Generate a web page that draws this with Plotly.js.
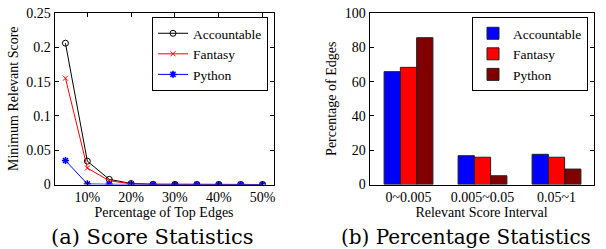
<!DOCTYPE html>
<html>
<head>
<meta charset="utf-8">
<script src="https://cdn.plot.ly/plotly-3.0.1.min.js"></script>
</head>
<body style="margin:0">
<div id="chart"></div>
<script>
// Left panel: minimum relevant score vs percentage of top edges
const topEdgePct = [5, 10, 15, 20, 25, 30, 35, 40, 45, 50];
const accountableScore = [0.206, 0.034, 0.0075, 0.0015, 0.0003, 0.0001, 0, 0, 0, 0];
const fantasyScore = [0.155, 0.024, 0.0055, 0.001, 0.0002, 0.0001, 0, 0, 0, 0];
const pythonScore = [0.035, 0.0008, 0.0003, 0.0001, 0, 0, 0, 0, 0, 0];
const pctTickVals = [10, 20, 30, 40, 50];
const pctTickText = ['10%', '20%', '30%', '40%', '50%'];

// Right panel: percentage of edges per relevant score interval
const intervals = ['0~0.005', '0.005~0.05', '0.05~1'];
const accountablePct = [65.8, 16.8, 17.6];
const fantasyPct = [68.3, 15.9, 15.9];
const pythonPct = [85.6, 5.1, 9.0];

const seriesNames = ['Accountable', 'Fantasy', 'Python'];

const FONT = 'Liberation Serif';
const CAP = 'DejaVu Serif';
const W = 606, H = 249;
const px = v => v / W;
const py = v => 1 - v / H;

const data = [
  {x: topEdgePct, y: accountableScore, name: seriesNames[0], type: 'scatter', mode: 'lines+markers',
   xaxis: 'x', yaxis: 'y', legend: 'legend',
   line: {color: '#000', width: 1}, marker: {symbol: 'circle-open', size: 6, color: '#000', line: {width: 1}}},
  {x: topEdgePct, y: fantasyScore, name: seriesNames[1], type: 'scatter', mode: 'lines+markers',
   xaxis: 'x', yaxis: 'y', legend: 'legend',
   line: {color: '#ff0000', width: 1}, marker: {symbol: 'x-thin-open', size: 5, color: '#ff0000', line: {width: 1, color: '#ff0000'}}},
  {x: topEdgePct, y: pythonScore, name: seriesNames[2], type: 'scatter', mode: 'lines+markers',
   xaxis: 'x', yaxis: 'y', legend: 'legend',
   line: {color: '#0000ff', width: 1}, marker: {symbol: 'asterisk-open', size: 6, color: '#0000ff', line: {width: 1.5, color: '#0000ff'}}},
  {x: intervals, y: accountablePct, name: seriesNames[0], type: 'bar', xaxis: 'x2', yaxis: 'y2', legend: 'legend2',
   marker: {color: '#0000ff', line: {color: '#222', width: 1}}},
  {x: intervals, y: fantasyPct, name: seriesNames[1], type: 'bar', xaxis: 'x2', yaxis: 'y2', legend: 'legend2',
   marker: {color: '#ff0000', line: {color: '#222', width: 1}}},
  {x: intervals, y: pythonPct, name: seriesNames[2], type: 'bar', xaxis: 'x2', yaxis: 'y2', legend: 'legend2',
   marker: {color: '#800000', line: {color: '#222', width: 1}}}
];

function axis(extra) {
  const a = {
    showline: true, linecolor: '#000', linewidth: 1, mirror: 'ticks',
    ticks: 'inside', ticklen: 4, tickcolor: '#000', showgrid: false, zeroline: false,
    tickfont: {family: FONT, size: 14, color: '#000'}
  };
  for (const k in extra) a[k] = extra[k];
  return a;
}

const layout = {
  width: W, height: H,
  margin: {l: 0, r: 0, t: 0, b: 0},
  paper_bgcolor: '#fff', plot_bgcolor: '#fff',
  barmode: 'group', bargap: 0.34, bargroupgap: 0,
  xaxis: axis({
    domain: [px(54.5), px(273.5)], anchor: 'y', range: [2.5, 52.5],
    tickvals: pctTickVals, ticktext: pctTickText,
    title: {text: 'Percentage of Top Edges', font: {family: FONT, size: 14, color: '#000'}, standoff: 0}
  }),
  yaxis: axis({
    domain: [1 - 184.5 / H, 1 - 13 / H], anchor: 'x', range: [0, 0.25], dtick: 0.05,
    title: {text: 'Minimum Relevant Score', font: {family: FONT, size: 14, color: '#000'}, standoff: 4}
  }),
  xaxis2: axis({
    domain: [px(369.5), px(593.5)], anchor: 'y2', range: [-0.527, 2.5], type: 'category',
    ticks: '',
    title: {text: 'Relevant Score Interval', font: {family: FONT, size: 14, color: '#000'}, standoff: 0}
  }),
  yaxis2: axis({
    domain: [1 - 184.5 / H, 1 - 13 / H], anchor: 'x2', range: [0, 100], dtick: 20,
    title: {text: 'Percentage of Edges', font: {family: FONT, size: 14, color: '#000'}, standoff: 4}
  }),
  legend: {
    x: px(152), y: py(17), xanchor: 'left', yanchor: 'top',
    bgcolor: '#fff', bordercolor: '#000', borderwidth: 1,
    font: {family: FONT, size: 13.5, color: '#000'}, tracegroupgap: 0, itemwidth: 30
  },
  legend2: {
    x: px(472), y: py(17), xanchor: 'left', yanchor: 'top',
    bgcolor: '#fff', bordercolor: '#000', borderwidth: 1,
    font: {family: FONT, size: 13.5, color: '#000'}, tracegroupgap: 0, itemwidth: 30
  },
  annotations: [
    {text: '(a) Score Statistics', xref: 'paper', yref: 'paper', x: px(152), y: py(237),
     xanchor: 'center', yanchor: 'middle', showarrow: false, font: {family: CAP, size: 21, color: '#000'}},
    {text: '(b) Percentage Statistics', xref: 'paper', yref: 'paper', x: px(466), y: py(237),
     xanchor: 'center', yanchor: 'middle', showarrow: false, font: {family: CAP, size: 20, color: '#000'}}
  ],
  showlegend: true
};

Plotly.newPlot('chart', data, layout, {displayModeBar: false, staticPlot: true});
</script>
</body>
</html>
